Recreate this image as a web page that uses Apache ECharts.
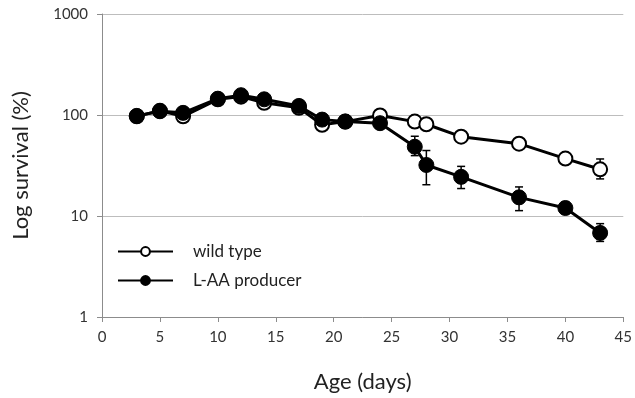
<!DOCTYPE html>
<html>
<head>
<meta charset="utf-8">
<script src="https://cdn.jsdelivr.net/npm/echarts@6/dist/echarts.min.js"></script>
<style>
  html, body { margin: 0; padding: 0; background: #fff; }
  #chart { width: 635px; height: 398px; }
</style>
</head>
<body>
<div id="chart"></div>
<script>
// Survival over time (days), log scale
const ages = [3, 5, 7, 10, 12, 14, 17, 19, 21, 24, 27, 28, 31, 36, 40, 43];
const wildType = [97, 110, 97, 143, 152, 132, 118, 80, 86, 99, 86, 81, 61, 52, 37, 29];
const laaProducer = [98, 109, 105, 145, 157, 143, 123, 90, 86, 83, 48.5, 32, 24.4, 15.3, 12, 6.8];

// Error bar ranges [age, low, high]
const wildTypeErr = [[43, 23.3, 36.7]];
const laaProducerErr = [
  [27, 39.6, 61.6],
  [28, 20.4, 44.5],
  [31, 18.7, 31],
  [36, 11.3, 19.4],
  [40, 10.5, 13.8],
  [43, 5.6, 8.4]
];

const yTicks = [1, 10, 100, 1000];
const FONT = 'Lato, "Open Sans", sans-serif';

function pairs(xs, ys) { return xs.map((x, i) => [x, ys[i]]); }

function errorBarSeries(data) {
  return {
    type: 'custom',
    silent: true,
    z: 1,
    data: data,
    renderItem: function (params, api) {
      const x = api.value(0);
      const lo = api.coord([x, api.value(1)]);
      const hi = api.coord([x, api.value(2)]);
      const cap = 4;
      const style = { stroke: '#000', lineWidth: 1.5 };
      return {
        type: 'group',
        children: [
          { type: 'line', shape: { x1: lo[0], y1: lo[1], x2: hi[0], y2: hi[1] }, style: style },
          { type: 'line', shape: { x1: lo[0] - cap, y1: lo[1], x2: lo[0] + cap, y2: lo[1] }, style: style },
          { type: 'line', shape: { x1: hi[0] - cap, y1: hi[1], x2: hi[0] + cap, y2: hi[1] }, style: style }
        ]
      };
    }
  };
}

const chart = echarts.init(document.getElementById('chart'), null, { renderer: 'canvas' });
chart.setOption({
  animation: false,
  backgroundColor: '#fff',
  grid: { left: 102, right: 11, top: 14, bottom: 81, containLabel: false },
  xAxis: {
    type: 'value',
    min: 0, max: 45, interval: 5,
    name: 'Age (days)',
    nameLocation: 'middle',
    nameGap: 54,
    nameTextStyle: { fontFamily: FONT, fontSize: 22, color: '#222' },
    axisLine: { show: true, lineStyle: { color: '#8c8c8c', width: 1 } },
    axisTick: { show: true, length: 5, lineStyle: { color: '#8c8c8c' } },
    axisLabel: { fontFamily: FONT, fontSize: 15, color: '#333', margin: 13 },
    splitLine: { show: false }
  },
  yAxis: {
    type: 'log',
    logBase: 10,
    min: yTicks[0], max: yTicks[yTicks.length - 1],
    name: 'Log survival (%)',
    nameLocation: 'middle',
    nameGap: 70,
    nameTextStyle: { fontFamily: FONT, fontSize: 22, color: '#222' },
    axisLine: { show: true, lineStyle: { color: '#8c8c8c', width: 1 } },
    axisTick: { show: true, length: 5, lineStyle: { color: '#8c8c8c' } },
    axisLabel: {
      fontFamily: FONT, fontSize: 15, color: '#333', margin: 14,
      formatter: function (v) { return String(Math.round(v)); }
    },
    splitLine: { show: true, lineStyle: { color: '#bdbdbd', width: 1 } }
  },
  legend: {
    orient: 'vertical',
    left: 117, top: 243,
    padding: 0,
    itemWidth: 55, itemHeight: 11,
    itemGap: 12,
    textStyle: { fontFamily: FONT, fontSize: 17, color: '#222', padding: [0, 0, 0, 15] },
    data: ['wild type', 'L-AA producer']
  },
  series: [
    errorBarSeries(wildTypeErr),
    {
      name: 'wild type',
      type: 'line',
      z: 2,
      data: pairs(ages, wildType),
      symbol: 'circle',
      symbolSize: 14,
      lineStyle: { color: '#000', width: 3 },
      itemStyle: { color: '#fff', borderColor: '#000', borderWidth: 2 }
    },
    errorBarSeries(laaProducerErr),
    {
      name: 'L-AA producer',
      type: 'line',
      z: 3,
      data: pairs(ages, laaProducer),
      symbol: 'circle',
      symbolSize: 15,
      lineStyle: { color: '#000', width: 3 },
      itemStyle: { color: '#000', borderColor: '#000', borderWidth: 1 }
    }
  ]
});
</script>
</body>
</html>
